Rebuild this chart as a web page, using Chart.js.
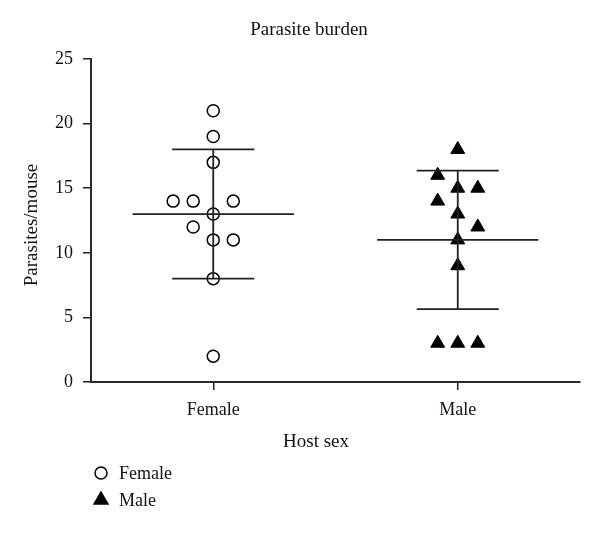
<!DOCTYPE html>
<html>
<head>
<meta charset="utf-8">
<title>Parasite burden</title>
<script src="https://cdn.jsdelivr.net/npm/chart.js@4"></script>
<style>
    body { margin: 0; background: #fff; }
    #wrap { width: 600px; height: 533px; }
</style>
</head>
<body>
<div id="wrap"><canvas id="burdenChart" width="600" height="533"></canvas></div>
<script>
// values
const categories = ['Female', 'Male'];
const femaleCounts = [21, 19, 17, 14, 14, 14, 13, 12, 11, 11, 8, 2];
const femaleSlots = [0, 0, 0, -2, -1, 1, 0, -1, 0, 1, 0, 0]; // jitter column of each point
const maleCounts = [18, 16, 15, 15, 14, 13, 12, 11, 9, 3, 3, 3];
const maleSlots = [0, -1, 0, 1, -1, 0, 1, 0, 0, -1, 0, 1];
const groupMeans = [13, 11];
const groupSds = [5, 5.36];
const yTicks = [0, 5, 10, 15, 20, 25];

const SLOT = 0.082;      // jitter step in category units
const MEAN_HALF = 0.33;  // half length of mean line
const CAP_HALF = 0.168;  // half length of SD caps
const FONT = 'Liberation Serif';

Chart.defaults.font.family = FONT;
Chart.defaults.color = '#111';

function toPoints(values, slots, center) {
    return values.map((v, i) => ({x: center + slots[i] * SLOT, y: v}));
}

// mean line, SD whisker and caps for each group, separated by gaps
function errorBarPoints() {
    const pts = [];
    groupMeans.forEach((m, i) => {
        const c = i + 1;
        const sd = groupSds[i];
        pts.push({x: c - MEAN_HALF, y: m}, {x: c + MEAN_HALF, y: m}, {x: c, y: null});
        pts.push({x: c, y: m - sd}, {x: c, y: m + sd}, {x: c, y: null});
        pts.push({x: c - CAP_HALF, y: m + sd}, {x: c + CAP_HALF, y: m + sd}, {x: c, y: null});
        pts.push({x: c - CAP_HALF, y: m - sd}, {x: c + CAP_HALF, y: m - sd}, {x: c, y: null});
    });
    return pts;
}

const legendItems = [
    {text: 'Female', pointStyle: 'circle', radius: 6, fill: 'rgba(0,0,0,0)'},
    {text: 'Male', pointStyle: 'triangle', radius: 8, fill: '#000'}
];

// axis titles and the legend block sit outside Chart.js' own boxes here
const extrasPlugin = {
    id: 'extras',
    afterDraw(chart) {
        const ctx = chart.ctx;
        ctx.save();
        ctx.fillStyle = '#111';
        ctx.font = '19px "' + FONT + '"';
        ctx.textAlign = 'center';
        ctx.textBaseline = 'middle';
        ctx.fillText('Host sex', 316, 442);

        ctx.save();
        ctx.translate(32, 225);
        ctx.rotate(-Math.PI / 2);
        ctx.fillText('Parasites/mouse', 0, 0);
        ctx.restore();

        ctx.font = '18px "' + FONT + '"';
        ctx.textAlign = 'left';
        legendItems.forEach((item, i) => {
            const y = 473 + i * 27;
            ctx.strokeStyle = '#000';
            ctx.fillStyle = item.fill;
            ctx.lineWidth = 1.5;
            Chart.helpers.drawPoint(ctx, {pointStyle: item.pointStyle, radius: item.radius, borderWidth: 1.5}, 101, y);
            ctx.fillStyle = '#111';
            ctx.fillText(item.text, 119, y + 1);
        });
        ctx.restore();
    }
};

new Chart(document.getElementById('burdenChart'), {
    type: 'scatter',
    data: {
        datasets: [
            {
                label: 'Female',
                data: toPoints(femaleCounts, femaleSlots, 1),
                pointStyle: 'circle',
                pointRadius: 6,
                pointBorderWidth: 1.5,
                pointBorderColor: '#000',
                pointBackgroundColor: 'rgba(0,0,0,0)',
                order: 2
            },
            {
                label: 'Male',
                data: toPoints(maleCounts, maleSlots, 2),
                pointStyle: 'triangle',
                pointRadius: 8,
                pointBorderWidth: 1,
                pointBorderColor: '#000',
                pointBackgroundColor: '#000',
                order: 2
            },
            {
                label: 'Mean ± SD',
                type: 'line',
                data: errorBarPoints(),
                borderColor: '#222',
                borderWidth: 1.8,
                pointRadius: 0,
                spanGaps: false,
                fill: false,
                order: 1
            }
        ]
    },
    options: {
        responsive: false,
        animation: false,
        layout: {padding: {left: 38, right: 20, top: 0, bottom: 101}},
        plugins: {
            legend: {display: false},
            tooltip: {enabled: false},
            title: {
                display: true,
                text: 'Parasite burden',
                color: '#111',
                font: {size: 19, weight: 'normal'},
                padding: {top: 18.6, bottom: 17.6}
            }
        },
        scales: {
            x: {
                type: 'linear',
                min: 0.5,
                max: 2.5,
                afterBuildTicks: scale => { scale.ticks = categories.map((c, i) => ({value: i + 1})); },
                afterFit: scale => { scale.height = 50; },
                ticks: {
                    font: {size: 18},
                    color: '#111',
                    padding: 9,
                    callback: v => categories[v - 1]
                },
                grid: {drawOnChartArea: false, tickLength: 8, color: '#222', lineWidth: 1.5},
                border: {color: '#2a2a2a', width: 2}
            },
            y: {
                min: 0,
                max: 25,
                afterBuildTicks: scale => { scale.ticks = yTicks.map(v => ({value: v})); },
                afterFit: scale => { scale.width = 53; },
                ticks: {font: {size: 18}, color: '#111', padding: 10},
                grid: {drawOnChartArea: false, tickLength: 8, color: '#222', lineWidth: 1.5},
                border: {color: '#2a2a2a', width: 2}
            }
        }
    },
    plugins: [extrasPlugin]
});
</script>
</body>
</html>
